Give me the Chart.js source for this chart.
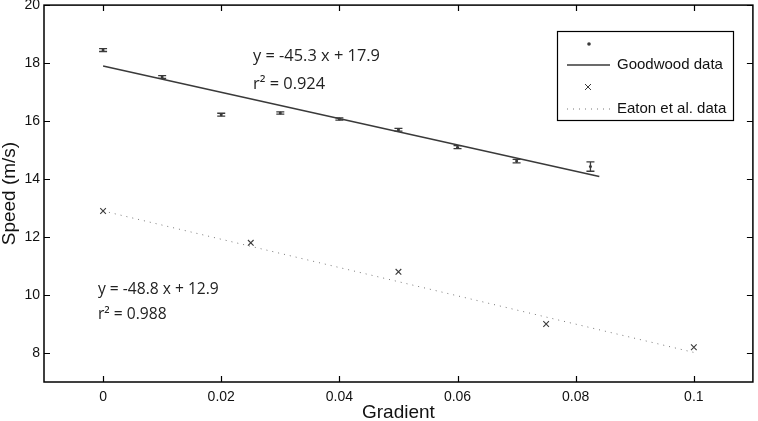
<!DOCTYPE html>
<html>
<head>
<meta charset="utf-8">
<script src="https://cdn.jsdelivr.net/npm/chart.js@4.4.1/dist/chart.umd.min.js"></script>
<style>
  html, body { margin: 0; padding: 0; background: #fff; }
  #wrap { width: 758px; height: 421px; }
</style>
</head>
<body>
<div id="wrap"><canvas id="chart" width="758" height="421"></canvas></div>
<script>
// data
const goodX = [0, 0.01, 0.02, 0.03, 0.04, 0.05, 0.06, 0.07, 0.0825];
const goodY = [18.45, 17.52, 16.22, 16.28, 16.07, 15.7, 15.1, 14.62, 14.43];
const goodErr = [0.05, 0.05, 0.05, 0.04, 0.04, 0.05, 0.05, 0.06, 0.16];

const eatonX = [0, 0.025, 0.05, 0.075, 0.1];
const eatonY = [12.9, 11.8, 10.8, 9.0, 8.2];

// fitted lines (end points)
const goodFitX = [0, 0.084];
const goodFitY = [17.9, 14.09];
const eatonFitX = [0, 0.1];
const eatonFitY = [12.9, 8.02];

const xTicks = [0, 0.02, 0.04, 0.06, 0.08, 0.1];
const yTicks = [8, 10, 12, 14, 16, 18, 20];

const ink = '#3a3a3a';

const pts = (xs, ys) => xs.map((x, i) => ({ x: x, y: ys[i] }));

const extras = {
  id: 'extras',
  afterDatasetsDraw(chart) {
    const { ctx, scales: { x, y } } = chart;
    ctx.save();
    ctx.strokeStyle = ink;
    ctx.lineWidth = 1.3;
    goodX.forEach((gx, i) => {
      const px = x.getPixelForValue(gx);
      const top = y.getPixelForValue(goodY[i] + goodErr[i]);
      const bot = y.getPixelForValue(goodY[i] - goodErr[i]);
      ctx.beginPath();
      ctx.moveTo(px, top); ctx.lineTo(px, bot);
      ctx.moveTo(px - 4, top); ctx.lineTo(px + 4, top);
      ctx.moveTo(px - 4, bot); ctx.lineTo(px + 4, bot);
      ctx.stroke();
    });
    ctx.restore();
  },
  afterDraw(chart) {
    const { ctx, chartArea: a, scales: { x, y } } = chart;
    ctx.save();
    // box
    ctx.strokeStyle = '#000';
    ctx.lineWidth = 1.5;
    ctx.strokeRect(a.left, a.top, a.right - a.left, a.bottom - a.top);
    // inward ticks
    ctx.lineWidth = 1.2;
    ctx.beginPath();
    xTicks.forEach(v => {
      const px = Math.round(x.getPixelForValue(v)) + 0.5;
      ctx.moveTo(px, a.bottom); ctx.lineTo(px, a.bottom - 6);
      ctx.moveTo(px, a.top); ctx.lineTo(px, a.top + 6);
    });
    yTicks.forEach(v => {
      const py = Math.round(y.getPixelForValue(v)) + 0.5;
      ctx.moveTo(a.left, py); ctx.lineTo(a.left + 6, py);
      ctx.moveTo(a.right, py); ctx.lineTo(a.right - 6, py);
    });
    ctx.stroke();

    // fit equations
    ctx.fillStyle = '#222';
    ctx.textBaseline = 'middle';
    ctx.textAlign = 'left';
    ctx.font = '16.4px "Open Sans"';
    ctx.fillText('y = -45.3 x + 17.9', 253, 56);
    ctx.fillText('r² = 0.924', 253, 84);
    ctx.font = '15.6px "Open Sans"';
    ctx.fillText('y = -48.8 x + 12.9', 98, 290);
    ctx.fillText('r² = 0.988', 98, 315);

    // legend
    ctx.strokeStyle = '#000';
    ctx.lineWidth = 1.2;
    ctx.fillStyle = '#fff';
    ctx.fillRect(557, 31, 176, 89);
    ctx.strokeRect(557.5, 31.5, 176, 89);
    ctx.fillStyle = ink;
    ctx.beginPath(); ctx.arc(589, 44, 1.8, 0, Math.PI * 2); ctx.fill();
    ctx.strokeStyle = ink;
    ctx.lineWidth = 1.3;
    ctx.beginPath(); ctx.moveTo(567, 65); ctx.lineTo(610, 65); ctx.stroke();
    ctx.lineWidth = 1;
    ctx.beginPath();
    ctx.moveTo(585, 84); ctx.lineTo(591, 90);
    ctx.moveTo(591, 84); ctx.lineTo(585, 90);
    ctx.stroke();
    ctx.setLineDash([1, 5]);
    ctx.strokeStyle = '#777';
    ctx.beginPath(); ctx.moveTo(567, 109); ctx.lineTo(611, 109); ctx.stroke();
    ctx.setLineDash([]);
    ctx.fillStyle = '#111';
    ctx.font = '15px "Liberation Sans"';
    ctx.fillText(chart.data.datasets[1].label, 617, 65);
    ctx.fillText(chart.data.datasets[3].label, 617, 109);
    ctx.restore();
  }
};

new Chart(document.getElementById('chart'), {
  type: 'scatter',
  data: {
    datasets: [
      {
        label: 'Goodwood points',
        data: pts(goodX, goodY),
        pointRadius: 1.5,
        pointBackgroundColor: ink,
        pointBorderWidth: 0
      },
      {
        label: 'Goodwood data',
        data: pts(goodFitX, goodFitY),
        showLine: true,
        borderColor: ink,
        borderWidth: 1.5,
        pointRadius: 0
      },
      {
        label: 'Eaton points',
        data: pts(eatonX, eatonY),
        pointStyle: 'crossRot',
        pointRadius: 4,
        borderColor: ink,
        pointBorderWidth: 1.1
      },
      {
        label: 'Eaton et al. data',
        data: pts(eatonFitX, eatonFitY),
        showLine: true,
        borderColor: '#777',
        borderWidth: 1,
        borderDash: [1, 5],
        pointRadius: 0
      }
    ]
  },
  options: {
    responsive: false,
    animation: false,
    layout: { padding: { top: 5, right: 3, left: 0, bottom: 0 } },
    plugins: { legend: { display: false }, tooltip: { enabled: false } },
    scales: {
      x: {
        type: 'linear',
        min: -0.01,
        max: 0.11,
        afterBuildTicks: s => { s.ticks = xTicks.map(v => ({ value: v })); },
        afterFit: s => { s.height = 39; s.paddingLeft = 0; s.paddingRight = 0; },
        grid: { display: false, drawTicks: false },
        border: { display: false },
        ticks: { color: '#111', padding: 7, font: { family: 'Liberation Sans', size: 14 }, callback: v => String(v) },
        title: { display: true, text: 'Gradient', color: '#111', padding: { top: 0, bottom: -1 }, font: { family: 'Liberation Sans', size: 19, lineHeight: 1 } }
      },
      y: {
        min: 7,
        max: 20,
        afterBuildTicks: s => { s.ticks = yTicks.map(v => ({ value: v })); },
        afterFit: s => { s.width = 44; s.paddingTop = 0; s.paddingBottom = 0; },
        grid: { display: false, drawTicks: false },
        border: { display: false },
        ticks: { color: '#111', padding: 4, font: { family: 'Liberation Sans', size: 14 }, callback: v => String(v) },
        title: { display: true, text: 'Speed (m/s)', color: '#111', padding: { top: 0, bottom: 0 }, font: { family: 'Liberation Sans', size: 19, lineHeight: 1 } }
      }
    }
  },
  plugins: [extras]
});
</script>
</body>
</html>
